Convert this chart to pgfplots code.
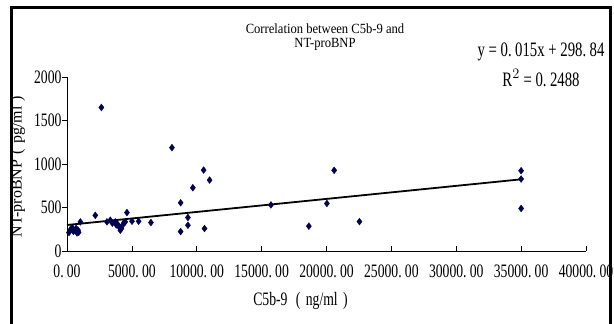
\documentclass[border=0pt]{standalone}
\usepackage{fontspec}
\setmainfont{Liberation Serif}[FakeStretch=0.72]
\newfontfamily\wide{Liberation Serif}
\newfontfamily\titlefont{Liberation Serif}[FakeStretch=0.9]
\usepackage{pgfplots}
\pgfplotsset{compat=1.18}
\definecolor{navy}{RGB}{0,0,80}
\begin{document}
\begin{tikzpicture}
\useasboundingbox (0,0) rectangle (614pt,324pt);
\draw[line width=3pt] (11pt,-2pt) -- (11pt,316pt) -- (610pt,316pt) -- (610pt,-2pt);
\begin{axis}[
  at={(67pt,73pt)}, anchor=south west,
  scale only axis, width=519pt, height=174pt,
  xmin=0, xmax=40000, ymin=0, ymax=2000,
  axis x line=bottom, axis y line=left,
  axis line style={-, line width=0.8pt},
  xtick={0,5000,...,40000},
  xticklabels={0.\,00,5000.\,00,10000.\,00,15000.\,00,20000.\,00,25000.\,00,30000.\,00,35000.\,00,40000.\,00},
  ytick={0,500,1000,1500,2000},
  tick align=inside,
  major tick length=5pt,
  tick style={black, line width=0.6pt},
  ytick style={xshift=-5pt},
  /pgf/number format/assume math mode=true,
  /pgf/number format/set thousands separator={},
  scaled x ticks=false,
  ticklabel style={font=\fontsize{19}{22}\selectfont},
  xticklabel style={yshift=-10pt},
  yticklabel style={xshift=-2pt},
  xlabel={C5b-9\,\makebox[0.8em]{(}ng/ml\makebox[0.8em]{)}},
  ylabel={\wide NT-proBNP\makebox[1em]{(}pg/ml\makebox[1em]{)}},
  xlabel style={font=\fontsize{19}{22}\selectfont, at={(axis description cs:0.455,-0.29)}, anchor=center},
  ylabel style={font=\fontsize{16}{18}\selectfont, at={(axis description cs:-0.095,0.5)}, anchor=center},
]
\addplot[only marks, mark=diamond*, mark size=3.4pt, color=navy] coordinates {
(150,212)(300,255)(400,270)(500,225)(640,239)(700,260)(770,208)(850,240)(900,215)(1030,335)
(2180,410)(2650,1650)(3080,335)(3340,354)(3500,320)(3720,335)(3800,300)(3900,308)(4000,280)
(4110,239)(4200,260)(4300,300)(4400,330)(4490,335)(4620,442)(5010,342)(5520,342)(6470,327)
(8090,1188)(8760,554)(8760,223)(9320,385)(9320,296)(9700,727)(10530,930)(10600,258)(10990,815)
(15720,530)(18640,285)(20030,546)(20590,927)(22540,338)(35000,923)(35000,827)(35000,489)
};
\addplot[black, line width=1.8pt] coordinates {(0,298.84) (35000,823.84)};
\end{axis}
\node[align=center, font=\titlefont\fontsize{14}{13.5}\selectfont, inner sep=0pt] at (325pt,287pt) {Correlation between C5b-9 and\\NT-proBNP};
\node[font=\fontsize{20.5}{22}\selectfont] at (541pt,272pt) {y = 0.\,015x + 298.\,84};
\node[font=\fontsize{20.5}{22}\selectfont] at (541pt,246pt) {R$^{2}$ = 0.\,2488};
\end{tikzpicture}
\end{document}
